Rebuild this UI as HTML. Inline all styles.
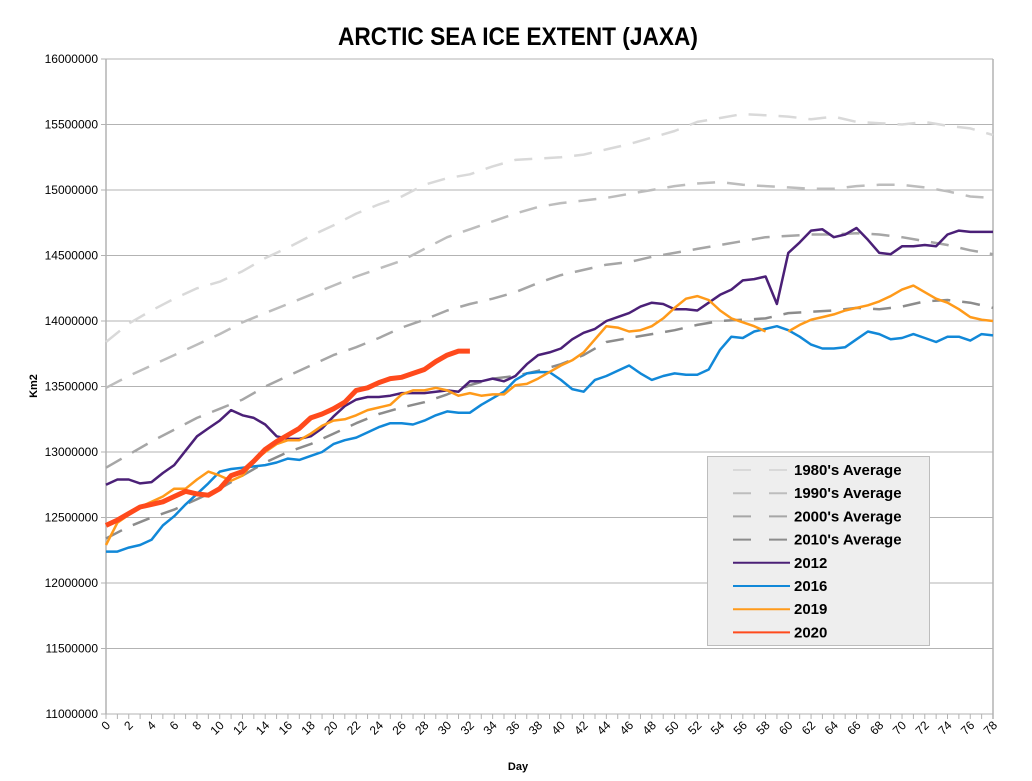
<!DOCTYPE html>
<html><head><meta charset="utf-8"><style>
body{margin:0;background:#fff;}
svg text{font-family:"Liberation Sans",sans-serif;}
</style></head><body>
<svg id="chart" width="1032" height="776" xmlns="http://www.w3.org/2000/svg">
<text x="518" y="45" text-anchor="middle" font-size="25" font-weight="bold" textLength="360" lengthAdjust="spacingAndGlyphs">ARCTIC SEA ICE EXTENT (JAXA)</text>
<text x="518" y="770" text-anchor="middle" font-size="11" font-weight="bold">Day</text>
<text x="0" y="0" transform="translate(37,386) rotate(-90)" text-anchor="middle" font-size="11" font-weight="bold">Km2</text>
<g id="grid"></g><g id="series"></g><g id="legend"></g>
</svg>
<script>
const yTicks=[11000000,11500000,12000000,12500000,13000000,13500000,14000000,14500000,15000000,15500000,16000000];
const avgDays=[0,2,4,6,8,10,12,14,16,18,20,22,24,26,28,30,32,34,36,38,40,42,44,46,48,50,52,54,56,58,60,62,64,66,68,70,72,74,76,78];
const avg1980=[13.84,13.98,14.08,14.17,14.25,14.30,14.38,14.48,14.56,14.65,14.73,14.82,14.89,14.95,15.04,15.09,15.12,15.18,15.23,15.24,15.25,15.27,15.31,15.35,15.40,15.45,15.52,15.55,15.58,15.57,15.56,15.54,15.56,15.52,15.51,15.50,15.52,15.49,15.47,15.42];
const avg1990=[13.49,13.58,13.66,13.74,13.82,13.90,13.99,14.06,14.13,14.20,14.27,14.34,14.40,14.46,14.55,14.64,14.70,14.76,14.82,14.87,14.90,14.92,14.94,14.97,15.00,15.03,15.05,15.06,15.04,15.03,15.02,15.01,15.01,15.03,15.04,15.04,15.02,14.99,14.95,14.94];
const avg2000=[12.88,12.98,13.08,13.17,13.26,13.33,13.40,13.50,13.58,13.66,13.74,13.80,13.87,13.95,14.01,14.08,14.13,14.17,14.22,14.29,14.35,14.39,14.43,14.45,14.49,14.52,14.55,14.58,14.61,14.64,14.65,14.66,14.66,14.67,14.66,14.64,14.61,14.58,14.54,14.51];
const avg2010=[12.34,12.43,12.50,12.56,12.64,12.72,12.82,12.92,13.00,13.06,13.14,13.22,13.29,13.34,13.38,13.44,13.51,13.56,13.58,13.62,13.67,13.74,13.84,13.87,13.90,13.93,13.97,14.00,14.01,14.02,14.06,14.07,14.08,14.10,14.09,14.11,14.15,14.16,14.14,14.10];
const y2012=[12.75,12.79,12.79,12.76,12.77,12.84,12.90,13.01,13.12,13.18,13.24,13.32,13.28,13.26,13.21,13.12,13.10,13.10,13.12,13.18,13.27,13.35,13.40,13.42,13.42,13.43,13.45,13.45,13.45,13.46,13.47,13.46,13.54,13.54,13.56,13.54,13.58,13.67,13.74,13.76,13.79,13.86,13.91,13.94,14.00,14.03,14.06,14.11,14.14,14.13,14.09,14.09,14.08,14.14,14.20,14.24,14.31,14.32,14.34,14.13,14.52,14.60,14.69,14.70,14.64,14.66,14.71,14.62,14.52,14.51,14.57,14.57,14.58,14.57,14.66,14.69,14.68,14.68,14.68];
const y2016=[12.24,12.24,12.27,12.29,12.33,12.44,12.51,12.60,12.68,12.76,12.85,12.87,12.88,12.89,12.90,12.92,12.95,12.94,12.97,13.00,13.06,13.09,13.11,13.15,13.19,13.22,13.22,13.21,13.24,13.28,13.31,13.30,13.30,13.36,13.41,13.46,13.55,13.60,13.61,13.61,13.55,13.48,13.46,13.55,13.58,13.62,13.66,13.60,13.55,13.58,13.60,13.59,13.59,13.63,13.78,13.88,13.87,13.92,13.94,13.96,13.93,13.88,13.82,13.79,13.79,13.80,13.86,13.92,13.90,13.86,13.87,13.90,13.87,13.84,13.88,13.88,13.85,13.90,13.89];
const y2019=[12.29,12.46,12.52,12.58,12.62,12.66,12.72,12.72,12.79,12.85,12.82,12.78,12.82,12.93,13.00,13.06,13.09,13.09,13.14,13.20,13.24,13.25,13.28,13.32,13.34,13.36,13.44,13.47,13.47,13.49,13.47,13.43,13.45,13.43,13.44,13.44,13.51,13.52,13.56,13.61,13.66,13.70,13.76,13.86,13.96,13.95,13.92,13.93,13.96,14.02,14.10,14.17,14.19,14.16,14.08,14.02,13.99,13.96,13.92,null,13.92,13.97,14.01,14.03,14.05,14.08,14.10,14.12,14.15,14.19,14.24,14.27,14.22,14.17,14.14,14.09,14.03,14.01,14.00];
const y2020=[12.44,12.48,12.53,12.58,12.60,12.62,12.66,12.70,12.68,12.67,12.72,12.82,12.85,12.93,13.02,13.08,13.13,13.18,13.26,13.29,13.33,13.38,13.47,13.49,13.53,13.56,13.57,13.60,13.63,13.69,13.74,13.77,13.77];
const legendLabels=["1980's Average","1990's Average","2000's Average","2010's Average","2012","2016","2019","2020"];

const NS="http://www.w3.org/2000/svg";
const X0=106,X1=993,Y0=714,Y1=59,DMAX=78,VMIN=11000000,VMAX=16000000;
const xs=d=>X0+(X1-X0)*d/DMAX;
const ys=v=>Y0-(Y0-Y1)*(v-VMIN)/(VMAX-VMIN);
function mk(tag,attrs,parent){const e=document.createElementNS(NS,tag);for(const k in attrs)e.setAttribute(k,attrs[k]);parent.appendChild(e);return e;}
const grid=document.getElementById('grid');
yTicks.forEach(t=>{
  const l=mk('line',{x1:X0-5,x2:X1,y1:ys(t),y2:ys(t),stroke:'#b3b3b3','stroke-width':1},grid);
  
  
  const tx=mk('text',{x:98,y:ys(t)+4,'text-anchor':'end','font-size':12},grid);
  tx.textContent=t;
  
  
});
const ax=mk('line',{x1:X0,x2:X0,y1:Y1,y2:Y0,stroke:'#b3b3b3','stroke-width':1.5},grid);


const rx=mk('line',{x1:X1,x2:X1,y1:Y1,y2:Y0+5,stroke:'#b3b3b3','stroke-width':1.5},grid);


for(let d=0;d<=DMAX;d++){
  const t=mk('line',{x1:xs(d),x2:xs(d),y1:Y0,y2:Y0+5,stroke:'#b3b3b3'},grid);
  
  
  if(d%2===0){
    const tx=mk('text',{x:0,y:0,'text-anchor':'end','font-size':12,transform:`translate(${xs(d)+5},${Y0+12}) rotate(-45)`},grid);
    tx.textContent=d;
    
    
  }
}
const ser=document.getElementById('series');
function draw(days,vals,style,name){
  let segs=[],cur=[];
  vals.forEach((v,i)=>{if(v==null){if(cur.length)segs.push(cur);cur=[];}else cur.push(xs(days[i]).toFixed(1)+','+ys(v*1e6).toFixed(1));});
  if(cur.length)segs.push(cur);
  segs.forEach(s=>{
    const p=mk('polyline',Object.assign({points:s.join(' '),fill:'none','stroke-linejoin':'round'},style),ser);
    
    
  });
}
const dayIdx=n=>Array.from({length:n},(_,i)=>i);
const styles=[
 {stroke:'#d9d9d9','stroke-width':2.5,'stroke-dasharray':'18 12'},
 {stroke:'#bdbdbd','stroke-width':2.5,'stroke-dasharray':'18 12'},
 {stroke:'#a6a6a6','stroke-width':2.5,'stroke-dasharray':'18 12'},
 {stroke:'#8c8c8c','stroke-width':2.5,'stroke-dasharray':'18 12'},
 {stroke:'#4b2077','stroke-width':2.5},
 {stroke:'#1188d8','stroke-width':2.5},
 {stroke:'#ff9a1a','stroke-width':2.5},
 {stroke:'#ff4a1c','stroke-width':5}
];
draw(avgDays,avg1980,styles[0],'line-1980s-average');
draw(avgDays,avg1990,styles[1],'line-1990s-average');
draw(avgDays,avg2000,styles[2],'line-2000s-average');
draw(avgDays,avg2010,styles[3],'line-2010s-average');
draw(dayIdx(y2012.length),y2012,styles[4],'line-2012');
draw(dayIdx(y2016.length),y2016,styles[5],'line-2016');
draw(dayIdx(y2019.length),y2019,styles[6],'line-2019');
draw(dayIdx(y2020.length),y2020,styles[7],'line-2020');
const lg=document.getElementById('legend');


mk('rect',{x:707.5,y:456.5,width:222,height:189,fill:'#eeeeee',stroke:'#bdbdbd'},lg);
legendLabels.forEach((lab,i)=>{
  const y=470+i*23.2;
  const g=mk('g',{},lg);
  
  
  const st=Object.assign({},styles[i]);
  if(i<4){st['stroke-dasharray']='18 18';st['stroke-width']=2;}else st['stroke-width']=2;
  mk('line',Object.assign({x1:733,x2:790,y1:y,y2:y},st),g);
  const t=mk('text',{x:794,y:y+5,'font-size':15,'font-weight':'bold'},g);
  t.textContent=lab;
});
</script>
</body></html>
